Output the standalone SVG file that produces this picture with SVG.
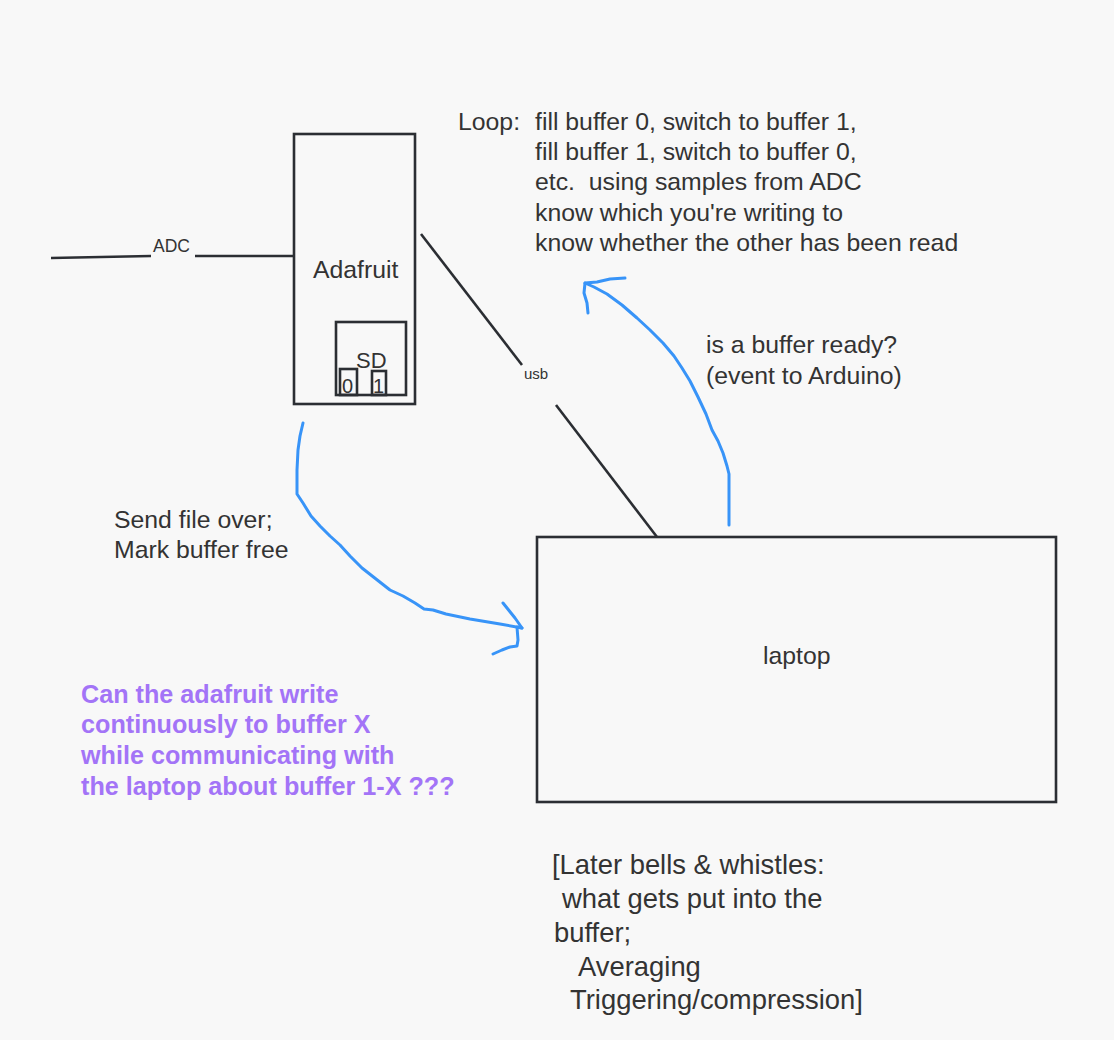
<svg xmlns="http://www.w3.org/2000/svg" width="1114" height="1040" viewBox="0 0 1114 1040">
<style>
.box{fill:none;stroke:#2b2e33;stroke-width:2.6}
.ln{fill:none;stroke:#2b2e33;stroke-width:2.6}
.ink{fill:none;stroke:#3894f8;stroke-width:3;stroke-linecap:round;stroke-linejoin:round}
.t{font-family:"Liberation Sans",Arial,sans-serif;fill:#333;font-size:24.8px}
.p{font-family:"Liberation Sans",Arial,sans-serif;fill:#a374f7;font-size:25.2px;font-weight:bold}
</style>
<rect x="0" y="0" width="1114" height="1040" fill="#f8f8f8"/>
<g id="adafruit">
<rect class="box" x="294" y="134" width="121" height="270"/>
<text class="t" x="313" y="278">Adafruit</text>
</g>
<g id="sd">
<rect class="box" x="336" y="322" width="70" height="73"/>
<text class="t" x="356" y="368" style="font-size:22px">SD</text>
<rect class="box" x="340" y="369" width="17" height="26"/>
<text class="t" x="342" y="393" style="font-size:20px">0</text>
<rect class="box" x="372" y="371" width="14" height="24"/>
<text class="t" x="373" y="393" style="font-size:20px">1</text>
</g>
<g id="laptop">
<rect class="box" x="537" y="537" width="519" height="265"/>
<text class="t" x="763" y="664">laptop</text>
</g>
<g id="connectors">
<line class="ln" x1="51" y1="258" x2="151" y2="256"/>
<line class="ln" x1="195" y1="256" x2="294" y2="256"/>
<text class="t" x="153" y="252" style="font-size:17.5px">ADC</text>
<line class="ln" x1="421" y1="234" x2="522" y2="365"/>
<line class="ln" x1="556" y1="405" x2="657" y2="537"/>
<text class="t" x="524" y="379" style="font-size:15px">usb</text>
<path class="ink" d="M303,423 L300,436 L298,450 L297,470 L297,494 L303,503 L311,516 L320,526 L330,536 L340,545 L350,556 L362,568 L376,579 L390,590 L403,596 L415,603 L424,609 L433,610 L446,614 L470,619 L500,624 L522,628"/>
<path class="ink" d="M503,603 L515,618 L522,628 L517,627 L518,640 L517,646 L510,647 L502,650 L493,654"/>
<path class="ink" d="M729,525 L729,474 L727,466 L723,453 L718,441 L712,430 L706,414 L698,397 L690,381 L682,368 L674,356 L663,343 L650,330 L637,318 L622,305 L607,294 L594,287 L585,283"/>
<path class="ink" d="M625,278 L610,279 L597,282 L585,283 L584,293 L587,303 L588,313"/>
</g>
<g id="labels">
<text class="t" x="458" y="130">Loop:</text>
<text class="t" x="535" y="130">fill buffer 0, switch to buffer 1,</text>
<text class="t" x="535" y="160">fill buffer 1, switch to buffer 0,</text>
<text class="t" x="535" y="190" xml:space="preserve">etc.  using samples from ADC</text>
<text class="t" x="535" y="221">know which you're writing to</text>
<text class="t" x="535" y="251">know whether the other has been read</text>
<text class="t" x="706" y="353">is a buffer ready?</text>
<text class="t" x="706" y="384">(event to Arduino)</text>
<text class="t" x="114" y="528">Send file over;</text>
<text class="t" x="114" y="558">Mark buffer free</text>
<text class="p" x="81" y="703">Can the adafruit write</text>
<text class="p" x="81" y="733">continuously to buffer X</text>
<text class="p" x="81" y="764">while communicating with</text>
<text class="p" x="81" y="795">the laptop about buffer 1-X ???</text>
<text class="t" x="552" y="874" style="font-size:27.4px">[Later bells &amp; whistles:</text>
<text class="t" x="562" y="908" style="font-size:27.4px">what gets put into the</text>
<text class="t" x="554" y="942" style="font-size:27.4px">buffer;</text>
<text class="t" x="578" y="976" style="font-size:27.4px">Averaging</text>
<text class="t" x="570" y="1009" style="font-size:27.4px">Triggering/compression]</text>
</g>
</svg>
